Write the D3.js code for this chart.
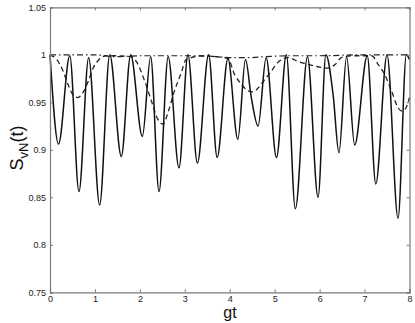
<!DOCTYPE html>
<html>
<head>
<meta charset="utf-8">
<script src="https://cdn.jsdelivr.net/npm/d3@7"></script>
<style>
  html, body { margin: 0; padding: 0; background: #fff; }
  svg { display: block; }
</style>
</head>
<body>
<svg id="chart" width="415" height="323"></svg>
<script>
// solid curve
var solidT = [0, 0.19, 0.44, 0.645, 0.86, 1.105, 1.33, 1.587, 1.795, 2.055, 2.24, 2.426, 2.63, 2.87, 3.07, 3.28, 3.53, 3.72, 3.96, 4.18, 4.35, 4.48, 4.63, 4.81, 5.04, 5.26, 5.46, 5.73, 5.965, 6.14, 6.30, 6.43, 6.60, 6.78, 7.06, 7.25, 7.50, 7.745, 7.93, 8.0];
var solidS = [1.000, 0.906, 0.999, 0.856, 0.997, 0.842, 1.000, 0.893, 1.000, 0.914, 0.998, 0.856, 0.998, 0.881, 1.000, 0.886, 1.000, 0.892, 0.996, 0.911, 0.995, 0.955, 0.925, 0.997, 0.892, 1.000, 0.838, 0.998, 0.850, 1.000, 0.958, 0.897, 0.998, 0.905, 0.999, 0.864, 1.000, 0.828, 1.000, 0.995];

// dashed curve
var dashT = [0, 0.15, 0.29, 0.40, 0.51, 0.62, 0.73, 0.85, 0.96, 1.07, 1.25, 1.50, 1.80, 1.92, 2.11, 2.26, 2.40, 2.52, 2.63, 2.77, 2.92, 3.03, 3.40, 3.70, 3.96, 4.11, 4.26, 4.41, 4.52, 4.63, 4.78, 4.93, 5.07, 5.30, 5.52, 5.74, 6.00, 6.19, 6.35, 6.48, 6.70, 7.16, 7.30, 7.45, 7.60, 7.75, 7.82, 7.89, 8.0];
var dashS = [1.000, 0.995, 0.983, 0.969, 0.958, 0.955, 0.960, 0.972, 0.986, 0.994, 0.999, 0.999, 0.998, 0.993, 0.972, 0.951, 0.932, 0.927, 0.940, 0.962, 0.981, 0.995, 0.999, 0.998, 0.996, 0.979, 0.969, 0.962, 0.961, 0.965, 0.974, 0.983, 0.992, 0.997, 0.993, 0.990, 0.987, 0.986, 0.990, 0.997, 0.999, 0.999, 0.990, 0.979, 0.962, 0.944, 0.941, 0.942, 0.955];

// dash-dot curve
var dotT = [0, 1.0, 1.45, 2.0, 2.6, 3.2, 3.7, 4.1, 4.4, 4.8, 5.3, 6.0, 7.0, 8.0];
var dotS = [1.000, 1.000, 0.998, 0.999, 0.999, 0.999, 0.998, 0.997, 0.997, 0.998, 0.999, 0.999, 1.000, 1.000];

var xTicks = [0, 1, 2, 3, 4, 5, 6, 7, 8];
var yTicks = [0.75, 0.8, 0.85, 0.9, 0.95, 1, 1.05];

var svg = d3.select("#chart");
var plotL = 50, plotR = 409.5, plotT = 7.3, plotB = 292.3;
var axisColor = "#7a7a7a";

var x = d3.scaleLinear().domain([0, 8]).range([plotL, plotR]);
var y = d3.scaleLinear().domain([0.75, 1.05]).range([plotB, plotT]);

function pairs(ts, ss) {
  return ts.map(function(t, i) { return [t, ss[i]]; });
}

var line = d3.line()
  .x(function(d) { return x(d[0]); })
  .y(function(d) { return y(d[1]); })
  .curve(d3.curveMonotoneX);

var plot = svg.append("g");

plot.append("path").datum(pairs(dotT, dotS))
  .attr("d", line).attr("fill", "none").attr("stroke", "#222")
  .attr("stroke-width", 1.2).attr("stroke-dasharray", "6,3,1.5,3");

plot.append("path").datum(pairs(dashT, dashS))
  .attr("d", line).attr("fill", "none").attr("stroke", "#222")
  .attr("stroke-width", 1.3).attr("stroke-dasharray", "5,3.5");

plot.append("path").datum(pairs(solidT, solidS))
  .attr("d", line).attr("fill", "none").attr("stroke", "#111")
  .attr("stroke-width", 1.5);

// axes with inward ticks
var ax = svg.append("g");

ax.append("g").attr("transform", "translate(0," + plotB + ")")
  .call(d3.axisBottom(x).tickValues(xTicks).tickSize(-3).tickPadding(3).tickFormat(d3.format("d")));
ax.append("g").attr("transform", "translate(0," + plotT + ")")
  .call(d3.axisTop(x).tickValues(xTicks).tickSize(-3).tickFormat(""));
ax.append("g").attr("transform", "translate(" + plotL + ",0)")
  .call(d3.axisLeft(y).tickValues(yTicks).tickSize(-3).tickPadding(4).tickFormat(function(d) { return String(+d.toFixed(2)); }));
ax.append("g").attr("transform", "translate(" + plotR + ",0)")
  .call(d3.axisRight(y).tickValues(yTicks).tickSize(-3).tickFormat(""));

ax.selectAll(".domain").attr("stroke", axisColor).attr("stroke-width", 1.2);
ax.selectAll(".tick line").attr("stroke", axisColor);
ax.selectAll(".tick text").attr("font-size", 9).attr("fill", "#222")
  .attr("font-family", "Liberation Sans, Arial, sans-serif");

// axis titles
svg.append("text")
  .attr("x", 230).attr("y", 318)
  .attr("text-anchor", "middle")
  .attr("font-family", "Liberation Sans, Arial, sans-serif")
  .attr("font-size", 16).attr("fill", "#111")
  .text("gt");

var yl = svg.append("text")
  .attr("transform", "translate(23,148) rotate(-90)")
  .attr("text-anchor", "middle")
  .attr("font-family", "Liberation Sans, Arial, sans-serif")
  .attr("font-size", 18).attr("fill", "#111");
yl.append("tspan").text("S");
yl.append("tspan").attr("font-size", 13).attr("dy", 5).text("vN");
yl.append("tspan").attr("dy", -5).text("(t)");
</script>
</body>
</html>
